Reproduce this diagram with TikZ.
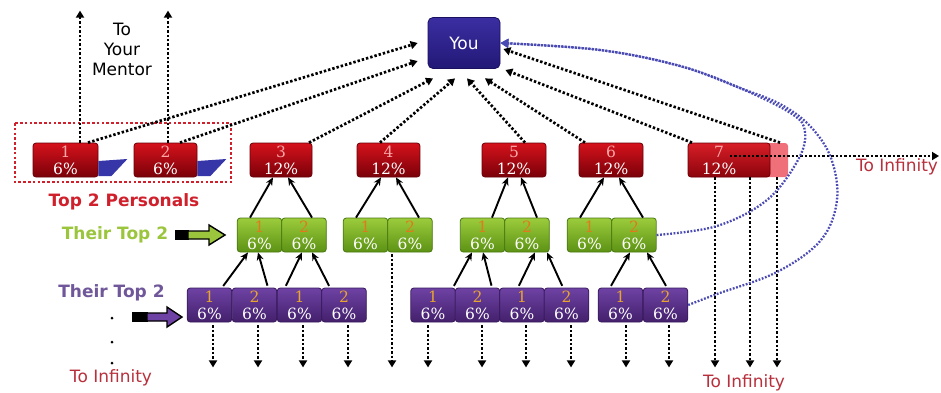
\documentclass[tikz,border=0pt]{standalone}
\usepackage{fontspec}
\setmainfont{DejaVu Sans}
\newfontfamily\boxfont{DejaVu Serif}
\usetikzlibrary{arrows.meta,calc}
\definecolor{redT}{HTML}{D5121C}
\definecolor{redB}{HTML}{7A0008}
\definecolor{redD}{HTML}{6A0008}
\definecolor{r7L}{HTML}{F0707A}
\definecolor{grnT}{HTML}{9CCC3C}
\definecolor{grnB}{HTML}{5C9214}
\definecolor{grnD}{HTML}{4A7812}
\definecolor{purT}{HTML}{6E42A4}
\definecolor{purB}{HTML}{43206C}
\definecolor{purD}{HTML}{381A5C}
\definecolor{youT}{HTML}{3B2EA2}
\definecolor{youB}{HTML}{221876}
\definecolor{youD}{HTML}{1A1060}
\definecolor{rnum}{HTML}{FFA8A8}
\definecolor{gnum}{HTML}{E07A1A}
\definecolor{pnum}{HTML}{E8A430}
\definecolor{blueL}{HTML}{4A4AB4}
\definecolor{shadowB}{HTML}{3636A8}
\definecolor{lblred}{HTML}{D0202C}
\definecolor{infred}{HTML}{B8303C}
\definecolor{lblgrn}{HTML}{9BC53D}
\definecolor{lblpur}{HTML}{6F5799}
\newcommand\mybt[3]{\textcolor{#1}{#2}\\#3}
\begin{document}
\begin{tikzpicture}[x=1pt,y=-1pt,
  boxtext/.style={inner sep=0pt, align=center, text=white, font=\boxfont\fontsize{15.5}{17}\selectfont},
  box/.style={boxtext, rounded corners=3pt, minimum height=34pt, line width=0.8pt},
  redbox/.style={box, top color=redT, bottom color=redB, draw=redD},
  grnbox/.style={box, minimum width=44.5pt, top color=grnT, bottom color=grnB, draw=grnD},
  purbox/.style={box, minimum width=44.5pt, top color=purT, bottom color=purB, draw=purD},
  dotarr/.style={line width=2.7pt, dash pattern=on 2.4pt off 2pt, -{Triangle[length=7pt,width=8pt]}},
  solarr/.style={line width=1.9pt, -{Stealth[length=8pt,width=7pt]}},
  bluedot/.style={line width=2.3pt, dash pattern=on 1.8pt off 1.6pt, color=blueL, -{Triangle[length=8pt,width=9pt]}},
  lbl/.style={inner sep=0pt, align=center, font=\fontsize{17}{20}\selectfont},
  blbl/.style={inner sep=0pt, font=\bfseries\fontsize{17}{20}\selectfont},
]
\fill[white] (0,0) rectangle (941,392);
\useasboundingbox (0,0) rectangle (941,392);

% You
\node[rounded corners=5pt, minimum width=72pt, minimum height=51pt, top color=youT, bottom color=youB, draw=youD, line width=0.8pt, text=white, font=\fontsize{17}{20}\selectfont] (you) at (464,43) {You};

% red row
\node[redbox, minimum width=65pt] (r1) at (65.5,160) {\mybt{rnum}{1}{6\%}};
\node[redbox, minimum width=63pt] (r2) at (165.5,160) {\mybt{rnum}{2}{6\%}};
\node[redbox, minimum width=62pt] (r3) at (281,160) {\mybt{rnum}{3}{12\%}};
\node[redbox, minimum width=63pt] (r4) at (388.5,160) {\mybt{rnum}{4}{12\%}};
\node[redbox, minimum width=64pt] (r5) at (514,160) {\mybt{rnum}{5}{12\%}};
\node[redbox, minimum width=64pt] (r6) at (611,160) {\mybt{rnum}{6}{12\%}};
\node[box, minimum width=100pt, fill=r7L] (r7back) at (738,160) {};
\node[box, minimum width=82pt, top color=redT!95!white, bottom color=redB!80!redT, draw=redD] (r7) at (729,160) {};
\node[boxtext] (r7t) at (719,160) {\mybt{rnum}{7}{12\%}};

% shadows of 1 and 2
\fill[shadowB] ([yshift=-1pt]r1.east) -- ++(29,-2) -- ++(-16,17) -- ++(-13,0) -- cycle;
\fill[shadowB] ([yshift=-1pt]r2.east) -- ++(29,-2) -- ++(-16,17) -- ++(-13,0) -- cycle;

% red dotted frame
\draw[lblred, line width=2.8pt, dash pattern=on 2.6pt off 2.2pt] (15,123) rectangle (231,182);

% green row
\node[grnbox] (g1) at (259.5,235) {\mybt{gnum}{1}{6\%}};
\node[grnbox] (g2) at (304,235) {\mybt{gnum}{2}{6\%}};
\node[grnbox] (g3) at (365.5,235) {\mybt{gnum}{1}{6\%}};
\node[grnbox] (g4) at (410,235) {\mybt{gnum}{2}{6\%}};
\node[grnbox] (g5) at (482.5,235) {\mybt{gnum}{1}{6\%}};
\node[grnbox] (g6) at (527,235) {\mybt{gnum}{2}{6\%}};
\node[grnbox] (g7) at (589.5,235) {\mybt{gnum}{1}{6\%}};
\node[grnbox] (g8) at (634,235) {\mybt{gnum}{2}{6\%}};

% purple row
\node[purbox] (p1) at (209.5,305) {\mybt{pnum}{1}{6\%}};
\node[purbox] (p2) at (254.5,305) {\mybt{pnum}{2}{6\%}};
\node[purbox] (p3) at (299.5,305) {\mybt{pnum}{1}{6\%}};
\node[purbox] (p4) at (344,305) {\mybt{pnum}{2}{6\%}};
\node[purbox] (p5) at (433,305) {\mybt{pnum}{1}{6\%}};
\node[purbox] (p6) at (477.5,305) {\mybt{pnum}{2}{6\%}};
\node[purbox] (p7) at (522,305) {\mybt{pnum}{1}{6\%}};
\node[purbox] (p8) at (566.5,305) {\mybt{pnum}{2}{6\%}};
\node[purbox] (p9) at (620.5,305) {\mybt{pnum}{1}{6\%}};
\node[purbox] (p10) at (665.5,305) {\mybt{pnum}{2}{6\%}};

% labels
\node[lbl] (mentor) at (122,49) {To\\Your\\Mentor};
\node[blbl, text=lblred] (pers) at (124,202) {Top 2 Personals};
\node[blbl, text=lblgrn] (th1) at (115,235) {Their Top 2};
\node[blbl, text=lblpur] (th2) at (111.5,293) {Their Top 2};
\node[lbl, text=infred] (inf1) at (111,378) {To Infinity};
\node[lbl, text=infred] (inf2) at (744,383) {To Infinity};
\node[lbl, text=infred] (inf3) at (897,167) {To Infinity};
\fill (112,318) circle (1.5pt);
\fill (112,342) circle (1.5pt);
\fill (112,363) circle (1.5pt);

% block arrows
\fill[black] (175,230) rectangle (189,240);
\filldraw[fill=lblgrn, draw=black, line width=1.4pt] (188,231) -- (209,231) -- (209,225) -- (225,235) -- (209,245) -- (209,239) -- (188,239) -- cycle;
\fill[black] (132,312) rectangle (148,322);
\filldraw[fill=purT, draw=black, line width=1.4pt] (147,313) -- (167,313) -- (167,307) -- (182,317) -- (167,327) -- (167,321) -- (147,321) -- cycle;

% arrows to mentor
\draw[dotarr] ([xshift=14.5pt]r1.north) -- ++(0,-132);
\draw[dotarr] ([xshift=2.5pt]r2.north) -- ++(0,-132);

% dotted arrows to You
\draw[dotarr] ([xshift=22.5pt]r1.north) -- ([xshift=-10pt]you.west);
\draw[dotarr] ([xshift=14.5pt]r2.north) -- ([xshift=-10pt,yshift=-18pt]you.west);
\draw[dotarr] ([xshift=28pt]r3.north) -- ([xshift=-31pt,yshift=-9.5pt]you.south);
\draw[dotarr] ([xshift=-8.5pt]r4.north) -- ([xshift=-9pt,yshift=-9.5pt]you.south);
\draw[dotarr] ([xshift=11pt]r5.north) -- ([xshift=3pt,yshift=-9.5pt]you.south);
\draw[dotarr] ([xshift=-26pt]r6.north) -- ([xshift=21pt,yshift=-9.5pt]you.south);
\draw[dotarr] ([xshift=-37pt]r7.north) -- ([xshift=5pt,yshift=-27pt]you.east);
\draw[dotarr] ([xshift=42pt]r7back.north) -- ([xshift=3pt,yshift=-6pt]you.east);

% to infinity right
\coordinate (rinf) at (939,156);
\draw[dotarr] ([xshift=1pt,yshift=4pt]r7.center) -- (rinf);

% green -> red
\draw[solarr] ([xshift=-9.5pt]g1.north) -- ([xshift=-8pt]r3.south);
\draw[solarr] ([xshift=8pt]g2.north) -- ([xshift=7pt]r3.south);
\draw[solarr] ([xshift=-9.5pt]g3.north) -- ([xshift=-7.5pt]r4.south);
\draw[solarr] ([xshift=9pt]g4.north) -- ([xshift=7.5pt]r4.south);
\draw[solarr] ([xshift=9.5pt]g5.north) -- ([xshift=-6pt]r5.south);
\draw[solarr] ([xshift=10pt]g6.north) -- ([xshift=7pt]r5.south);
\draw[solarr] ([xshift=-9.5pt]g7.north) -- ([xshift=-7pt]r6.south);
\draw[solarr] ([xshift=9pt]g8.north) -- ([xshift=8pt]r6.south);

% purple -> green
\draw[solarr, shorten <=2pt] ([xshift=12.5pt]p1.north) -- ([xshift=-11.5pt]g1.south);
\draw[solarr, shorten <=2pt] ([xshift=13.5pt]p2.north) -- ([xshift=-1.5pt]g1.south);
\draw[solarr, shorten <=2pt] ([xshift=-14.5pt]p3.north) -- ([xshift=-2pt]g2.south);
\draw[solarr, shorten <=2pt] ([xshift=-14pt]p4.north) -- ([xshift=8pt]g2.south);
\draw[solarr, shorten <=2pt] ([xshift=20pt]p5.north) -- ([xshift=-10.5pt]g5.south);
\draw[solarr, shorten <=2pt] ([xshift=14.5pt]p6.north) -- ([xshift=0.5pt]g5.south);
\draw[solarr, shorten <=2pt] ([xshift=-4pt]p7.north) -- ([xshift=8pt]g6.south);
\draw[solarr, shorten <=2pt] ([xshift=-3.5pt]p8.north) -- ([xshift=20pt]g6.south);
\draw[solarr, shorten <=2pt] ([xshift=-10.5pt]p9.north) -- ([xshift=-4pt]g8.south);
\draw[solarr, shorten <=2pt] ([xshift=1.5pt]p10.north) -- ([xshift=13pt]g8.south);

% dotted down arrows
\draw[dotarr, shorten <=3pt] ([xshift=3.5pt]p1.south) -- ++(0,45);
\draw[dotarr, shorten <=3pt] ([xshift=3.5pt]p2.south) -- ++(0,45);
\draw[dotarr, shorten <=3pt] ([xshift=3.5pt]p3.south) -- ++(0,45);
\draw[dotarr, shorten <=3pt] ([xshift=4pt]p4.south) -- ++(0,45);
\draw[dotarr, shorten <=2pt] ([xshift=-18pt]g4.south) -- ++(0,115);
\draw[dotarr, shorten <=3pt] ([xshift=-5pt]p5.south) -- ++(0,45);
\draw[dotarr, shorten <=3pt] ([xshift=4.5pt]p6.south) -- ++(0,45);
\draw[dotarr, shorten <=3pt] ([xshift=4pt]p7.south) -- ++(0,45);
\draw[dotarr, shorten <=3pt] ([xshift=4.5pt]p8.south) -- ++(0,45);
\draw[dotarr, shorten <=3pt] ([xshift=5.5pt]p9.south) -- ++(0,45);
\draw[dotarr, shorten <=3pt] ([xshift=3.5pt]p10.south) -- ++(0,45);
\draw[dotarr] ([xshift=-14pt]r7.south) -- ++(0,190);
\draw[dotarr] ([xshift=21pt]r7.south) -- ++(0,190);
\draw[dotarr] ([xshift=39pt]r7back.south) -- ++(0,190);

% blue loops back to You
\draw[bluedot] plot[smooth, tension=0.6] coordinates {(g8.east) (717,226) (767,200) (798,160) (805,132) (792,114) (740,88) (680,66) (600,50) (you.east)};
\draw[bluedot] plot[smooth, tension=0.6] coordinates {(p10.east) (717,294) (777,272) (821,240) (837,200) (831,158) (810,126) (780,104) (740,88) (680,66) (600,50) (you.east)};
\end{tikzpicture}
\end{document}
